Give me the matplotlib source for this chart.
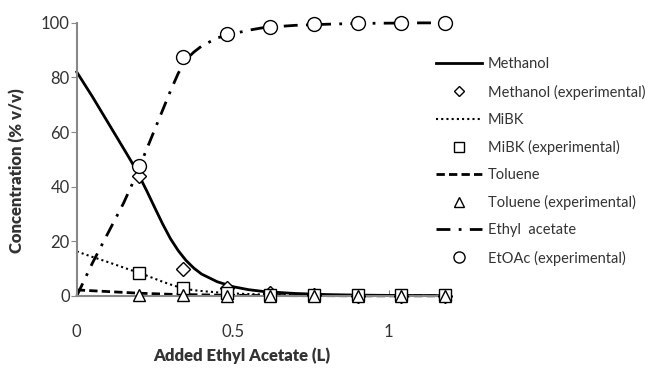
import matplotlib
matplotlib.use("Agg")
import matplotlib.pyplot as plt

plt.rcParams['font.family'] = ['Lato', 'DejaVu Sans']

# model curves
x_model = [0, 0.05, 0.1, 0.15, 0.175, 0.2, 0.225, 0.25, 0.275, 0.3, 0.325, 0.35,
           0.375, 0.4, 0.45, 0.5, 0.55, 0.6, 0.7, 0.8, 0.9, 1.0, 1.1, 1.18]
methanol = [82, 73, 63.5, 54, 49.2, 44, 38.3, 32.3, 26.4, 21, 16.6, 13,
            10.2, 8, 5.2, 3.4, 2.3, 1.6, 0.9, 0.5, 0.3, 0.2, 0.15, 0.1]
mibk = [16.3, 14.3, 12.4, 10.4, 9.4, 8.5, 7.4, 6.3, 5.2, 4.2, 3.3, 2.6,
        2.1, 1.8, 1.3, 0.9, 0.7, 0.5, 0.35, 0.25, 0.2, 0.15, 0.1, 0.1]
toluene = [2.2, 1.9, 1.6, 1.3, 1.15, 1.0, 0.9, 0.8, 0.7, 0.6, 0.55, 0.5,
           0.45, 0.4, 0.3, 0.25, 0.2, 0.15, 0.1, 0.1, 0.05, 0.05, 0.05, 0.05]
etoac = [0, 12, 23, 34, 40.3, 47, 54, 61, 68, 75, 81.5, 86.5,
         89.3, 91.5, 94.5, 96, 97.3, 98.3, 99.1, 99.5, 99.8, 99.9, 100, 100]

# experimental points
x_exp = [0.2, 0.34, 0.48, 0.62, 0.76, 0.9, 1.04, 1.18]
methanol_exp = [44, 10, 3, 1, 0.3, 0, 0, 0]
mibk_exp = [8.5, 3, 1, 0.5, 0.3, 0.2, 0.2, 0.2]
toluene_exp = [0.3, 0.2, 0.1, 0.1, 0.1, 0, 0, 0]
etoac_exp = [47.5, 87.5, 96, 98.5, 99.5, 99.8, 100, 100]

fig = plt.figure(figsize=(6.56, 3.69), dpi=100)
ax = fig.add_axes([0.117, 0.198, 0.571, 0.74])

mk = dict(linestyle='none', markerfacecolor='white', markeredgecolor='black',
          markeredgewidth=1.0, clip_on=False, zorder=5)

ax.plot(x_model, methanol, color='black', lw=2, label='Methanol', clip_on=False)
ax.plot(x_exp, methanol_exp, marker='D', markersize=7, label='Methanol (experimental)', **mk)
ax.plot(x_model, mibk, color='black', lw=1.5, linestyle=(0, (1, 1.5)), label='MiBK', clip_on=False)
ax.plot(x_exp, mibk_exp, marker='s', markersize=9, label='MiBK (experimental)', **mk)
ax.plot(x_model, toluene, color='black', lw=2, linestyle=(0, (3, 1.5)), label='Toluene', clip_on=False)
ax.plot(x_exp, toluene_exp, marker='^', markersize=9, label='Toluene (experimental)', **mk)
ax.plot(x_model, etoac, color='black', lw=2, linestyle=(0, (5, 3, 1, 3)), label='Ethyl  acetate', clip_on=False)
ax.plot(x_exp, etoac_exp, marker='o', markersize=10, label='EtOAc (experimental)', **mk)

ax.set_xlim(0, 1.2)
ax.set_ylim(0, 100)
ax.set_xticks([0, 0.5, 1])
ax.set_xticklabels(['0', '0.5', '1'])
ax.set_yticks([0, 20, 40, 60, 80, 100])

for s in ['top', 'right']:
    ax.spines[s].set_visible(False)
for s in ['left', 'bottom']:
    ax.spines[s].set_color('#888888')
    ax.spines[s].set_linewidth(1.5)

ax.tick_params(axis='y', direction='out', length=4, pad=1, color='#888888', labelsize=12, labelcolor='#333333')
ax.tick_params(axis='x', direction='in', length=4, color='#888888', labelsize=12, labelcolor='#333333', pad=20)

ax.set_xlabel('Added Ethyl Acetate (L)', fontsize=12, fontweight='heavy', color='#333333')
ax.xaxis.set_label_coords(0.44, -0.19)
ax.set_ylabel('Concentration (% v/v)', fontsize=12, fontweight='heavy', color='#333333')
ax.yaxis.set_label_coords(-0.137, 0.46)

fig.legend(loc='upper left', bbox_to_anchor=(0.644, 0.88), frameon=False,
           fontsize=10.5, labelspacing=0.9, handlelength=3.2, handletextpad=0.4,
           markerscale=0.8, labelcolor='#333333')

fig.savefig('out.png', dpi=100)
